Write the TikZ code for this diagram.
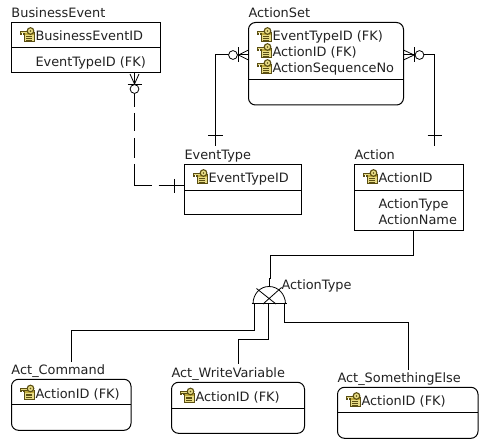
\documentclass[tikz,border=0pt]{standalone}
\usepackage{fontspec}
\setmainfont{DejaVu Sans}
\definecolor{txt}{HTML}{222222}
\definecolor{gold}{HTML}{C2AC3C}
\definecolor{golddk}{HTML}{5A4E12}
\definecolor{goldlt}{HTML}{E8DC86}
\tikzset{
  ent/.style={draw=black,line width=1pt,anchor=north west,inner sep=0pt,outer sep=0pt,fill=white},
  rnd/.style={ent,rounded corners=7pt},
  lbl/.style={anchor=base west,inner sep=0pt,outer sep=0pt,text=txt,yshift=-0.6pt,font=\fontsize{12.9}{14}\selectfont},
  conn/.style={line width=1pt,line join=miter},
  fine/.style={line width=0.8pt},
  keyicon/.pic={
    \fill[goldlt,draw=golddk,line width=.9pt] (4,4.5) rectangle (14,13.5);
    \fill[gold] (4.5,5) rectangle (13.5,7.4);
    \draw[golddk,line width=.9pt] (6.2,8.8)--(12,8.8) (6.2,10.4)--(12,10.4) (6.2,12)--(12,12);
    \draw[golddk,line width=2.2pt] (0.4,4)--(8,4);
    \draw[golddk,line width=1.2pt] (1,4)--(1,7) (3.2,4)--(3.2,6.6);
    \draw[goldlt,line width=.7pt] (0.6,3.9)--(8,3.9);
    \fill[goldlt,draw=golddk,line width=1.1pt] (10.5,3) circle[radius=3.3pt];
    \fill[golddk] (10.5,3) circle[radius=.9pt];
  }
}
\begin{document}
\begin{tikzpicture}[x=1pt,y=-1pt]
\useasboundingbox (0,0) rectangle (488,446);
\fill[white] (0,0) rectangle (488,446);
% boxes
\node[ent,minimum width=149pt,minimum height=50.5pt] (be) at (11.5,22.5) {};
\node[ent,minimum width=116.5pt,minimum height=50.5pt] (et) at (184.5,164.5) {};
\node[rnd,minimum width=155pt,minimum height=82.5pt] (as) at (248.5,22.5) {};
\node[ent,minimum width=109pt,minimum height=66.5pt] (ac) at (354.5,164.5) {};
\node[rnd,minimum width=119.5pt,minimum height=51pt] (c1) at (11.5,379.3) {};
\node[rnd,minimum width=133pt,minimum height=51pt] (c2) at (171.5,382.3) {};
\node[rnd,minimum width=140.5pt,minimum height=51pt] (c3) at (337.5,387.3) {};
% dividers
\draw[conn] ([yshift=-25.5pt]be.north west) -- ([yshift=-25.5pt]be.north east);
\draw[conn] ([yshift=-26pt]et.north west) -- ([yshift=-26pt]et.north east);
\draw[conn] ([yshift=-57.5pt]as.north west) -- ([yshift=-57.5pt]as.north east);
\draw[conn] ([yshift=-26pt]ac.north west) -- ([yshift=-26pt]ac.north east);
\draw[conn] ([yshift=-25.7pt]c1.north west) -- ([yshift=-25.7pt]c1.north east);
\draw[conn] ([yshift=-26pt]c2.north west) -- ([yshift=-26pt]c2.north east);
\draw[conn] ([yshift=-25.7pt]c3.north west) -- ([yshift=-25.7pt]c3.north east);
% titles
\node[lbl] (tbe) at (11.5,17) {BusinessEvent};
\node[lbl] (tas) at (248.5,17) {ActionSet};
\node[lbl] (tet) at (184.5,159) {EventType};
\node[lbl] (tac) at (354.5,159) {Action};
\node[lbl] (tc1) at (11.5,374) {Act\_Command};
\node[lbl] (tc2) at (171.5,377) {Act\_WriteVariable};
\node[lbl] (tc3) at (337.5,382) {Act\_SomethingElse};
\node[lbl] (tat) at (281.5,289) {ActionType};
% attributes
\node[lbl] (a1) at (35.5,40) {BusinessEventID};
\node[lbl] (a2) at (35.5,66) {EventTypeID (FK)};
\node[lbl] (a3) at (272.5,40) {EventTypeID (FK)};
\node[lbl] (a4) at (272.5,56) {ActionID (FK)};
\node[lbl] (a5) at (272.5,72) {ActionSequenceNo};
\node[lbl] (a6) at (208.5,182) {EventTypeID};
\node[lbl] (a7) at (378.5,182) {ActionID};
\node[lbl] (a8) at (378.5,208) {ActionType};
\node[lbl] (a9) at (378.5,224) {ActionName};
\node[lbl] (a10) at (35.5,397.6) {ActionID (FK)};
\node[lbl] (a11) at (195.5,400.7) {ActionID (FK)};
\node[lbl] (a12) at (361.5,405) {ActionID (FK)};
% key icons
\foreach \px/\py in {20/28,257/28,257/44,257/60,193/170,363/170,20/385.5,180/388.5,346/393}
  \pic[x=1pt,y=-1pt] at (\px,\py) {keyicon};
% ActionSet -- EventType
\coordinate (asL) at ([yshift=-32.5pt]as.north west);
\coordinate (asR) at ([yshift=-32.5pt]as.north east);
\coordinate (etT) at (215.3,145.7);
\coordinate (acT) at (434.7,145.7);
\draw[conn] (asL) -- (215.3,55) -- (etT);
\draw[conn] (208,136) -- (222.5,136);
\draw[fine] (asL) ++(0,-5) -- ++(-10,5) -- ++(10,5);
\draw[fine] (238.4,47.5) -- (238.4,62.5);
\draw[fine,fill=white] (233,55) circle[radius=4.4pt];
% ActionSet -- Action
\draw[conn] (asR) -- (434.7,55) -- (acT);
\draw[conn] (427.5,136) -- (441.5,136);
\draw[fine] (asR) ++(0,-5) -- ++(10.5,5) -- ++(-10.5,5);
\draw[fine] (414.5,47.5) -- (414.5,62.5);
\draw[fine,fill=white] (419.5,55) circle[radius=4.4pt];
% BusinessEvent -- EventType (dashed)
\coordinate (beB) at (be.south west -| 134.5,0);
\coordinate (etL) at ([yshift=-21.5pt]et.north west);
\draw[conn,dash pattern=on 14pt off 6pt on 18pt off 7pt on 20pt off 6pt on 39pt off 7pt on 30pt] (134.5,93) -- (134.5,186) -- (etL);
\draw[conn] (127.5,84.3) -- (141.5,84.3);
\draw[fine] (130,74) -- (134.5,84) -- (139,74);
\draw[fine] (beB) -- (134.5,85);
\draw[fine,fill=white] (134.5,89) circle[radius=4.4pt];
\draw[conn] (174.3,179) -- (174.3,193);
% subtype
\coordinate (acB) at (413.3,230.7);
\coordinate (sT) at (269,279);
\coordinate (sL) at (251.5,304);
\coordinate (sR) at (287,304);
\draw[conn] (acB) -- (413.3,255.3) -- (270.3,255.3) -- (270.3,279) -- (269,279) -- (269,286);
\draw[conn] (sL) -- (sR);
\draw[fine] (253,304) .. controls (253,294) and (260,286.5) .. (269,286.5) .. controls (278,286.5) and (285.5,294) .. (285.5,304);
\draw[fine] (263,304) -- (281.5,287.5) (276,304) -- (256.5,288.5);
\draw[conn] (254.5,304) -- (254.5,331) -- (71,331) -- (71,361.7);
\draw[conn] (268.3,304) -- (268.3,340) -- (238.3,340) -- (238.3,364);
\draw[conn] (284,304) -- (284,323) -- (408.5,323) -- (408.5,370);
\end{tikzpicture}
\end{document}
